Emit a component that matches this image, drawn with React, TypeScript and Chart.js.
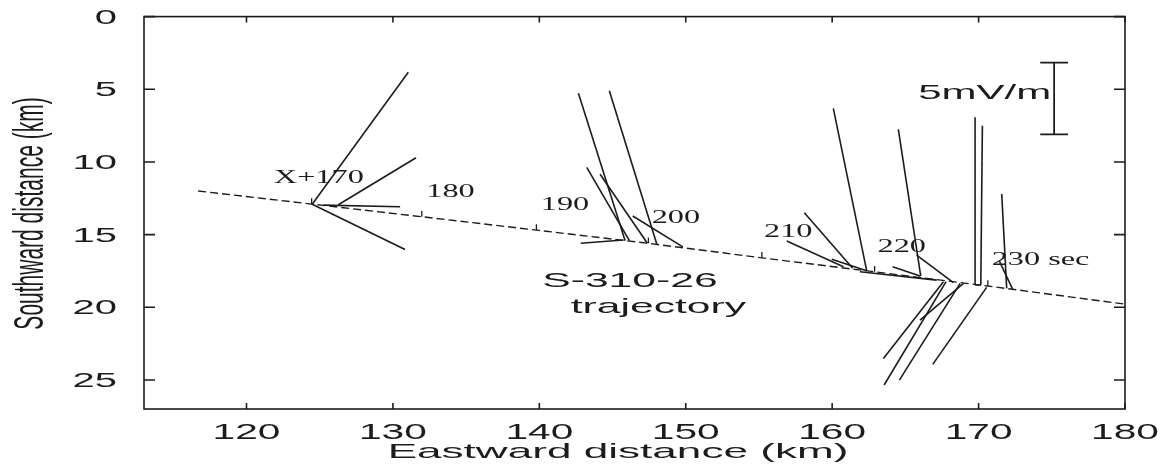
import React, { useEffect, useRef } from 'react';
import { Chart, registerables } from 'chart.js';

Chart.register(...registerables);

// ---- data (km east, km south) ----
// S-310-26 trajectory
const trajX = [116.7, 124.45, 131.97, 139.8, 147.45, 155.2, 162.9, 170.63, 179.9];
const trajY = [12.0, 12.9, 13.77, 14.69, 15.6, 16.6, 17.56, 18.54, 19.77];

// time marks along the trajectory
const timeMarkX = [124.45, 131.97, 139.8, 147.45, 155.2, 162.9, 170.63];
const timeMarkY = [12.9, 13.77, 14.69, 15.6, 16.6, 17.56, 18.54];
const timeLabels = ['X+170', '180', '190', '200', '210', '220', '230 sec'];
const timeLabelX = [124.94, 133.93, 141.75, 149.33, 157.0, 164.75, 174.23];
const timeLabelY = [11.47, 12.39, 13.31, 14.18, 15.19, 16.18, 17.09];

// electric field vectors: base (x0,y0) -> tip (x1,y1)
const vecX0 = [124.5, 126.27, 125.25, 124.45, 145.86, 148.02, 146.15, 147.38, 149.8, 145.74,
  161.4, 160.77, 162.36, 162.36, 161.9, 166.05, 166.0, 168.28, 169.76, 170.15,
  171.92, 172.33, 167.6, 167.78, 168.74, 168.97, 170.55, 169.76];
const vecY0 = [12.9, 12.95, 12.97, 12.9, 15.42, 15.65, 15.42, 15.6, 15.84, 15.37,
  17.32, 17.21, 17.49, 17.49, 17.56, 17.85, 17.85, 18.31, 18.47, 18.47,
  18.7, 18.77, 18.24, 18.24, 18.36, 18.36, 18.63, 18.47];
const vecX1 = [131.05, 131.58, 130.49, 130.83, 142.67, 144.78, 143.24, 144.15, 146.38, 142.83,
  158.1, 156.9, 159.97, 160.08, 167.14, 164.52, 164.13, 165.77, 169.76, 170.26,
  171.58, 171.42, 163.5, 163.55, 164.59, 166.0, 166.87, 170.15];
const vecY1 = [3.83, 9.71, 13.08, 16.02, 5.28, 5.1, 10.37, 10.85, 13.72, 15.6,
  13.5, 15.44, 16.7, 6.31, 18.13, 7.76, 17.21, 16.41, 6.93, 7.51,
  12.21, 16.82, 23.52, 25.35, 25.01, 20.88, 23.93, 18.47];

// 5 mV/m scale bar
const scaleBarX = 175.16;
const scaleBarY = [3.17, 8.1];
const scaleBarCap = 0.95;
const scaleBarLabel = '5mV/m';

// axes
const xTicks = [120, 130, 140, 150, 160, 170, 180];
const yTicks = [0, 5, 10, 15, 20, 25];
const xTitle = 'Eastward distance (km)';
const yTitle = 'Southward distance (km)';

const INK = '#1c1c1c';
const SANS = 'Liberation Sans, Arial, sans-serif';
const SERIF = 'Liberation Serif, Times New Roman, serif';

function stretchText(ctx: CanvasRenderingContext2D, text: string, x: number, y: number,
  font: string, sx: number, align: CanvasTextAlign, rotate = false) {
  ctx.save();
  ctx.font = font;
  ctx.fillStyle = INK;
  ctx.translate(x, y);
  ctx.scale(sx, 1);
  if (rotate) ctx.rotate(-Math.PI / 2);
  ctx.textAlign = align;
  ctx.textBaseline = 'alphabetic';
  ctx.fillText(text, 0, 0);
  ctx.restore();
}

const framePlugin = {
  id: 'frameAndText',
  afterDatasetsDraw(chart: any) {
    const { ctx, chartArea: a, scales } = chart;
    const xs = scales.x, ys = scales.y;
    ctx.save();
    ctx.strokeStyle = INK;
    ctx.lineWidth = 1.6;
    ctx.strokeRect(a.left, a.top, a.right - a.left, a.bottom - a.top);
    ctx.beginPath();
    xTicks.forEach((v) => {
      const px = xs.getPixelForValue(v);
      ctx.moveTo(px, a.bottom); ctx.lineTo(px, a.bottom - 6);
      ctx.moveTo(px, a.top); ctx.lineTo(px, a.top + 6);
    });
    yTicks.forEach((v) => {
      const py = ys.getPixelForValue(v);
      ctx.moveTo(a.left, py); ctx.lineTo(a.left + 11, py);
      ctx.moveTo(a.right, py); ctx.lineTo(a.right - 11, py);
    });
    ctx.stroke();
    ctx.restore();

    // tick labels
    xTicks.forEach((v) => {
      stretchText(ctx, String(v), xs.getPixelForValue(v), a.bottom + 30, `22px ${SANS}`, 1.85, 'center');
    });
    yTicks.forEach((v) => {
      stretchText(ctx, String(v), a.left - 27, ys.getPixelForValue(v) + 7.2, `20px ${SANS}`, 2.0, 'right');
    });
    // axis titles
    stretchText(ctx, xTitle, 610, 450, `21px ${SANS}`, 2.1, 'center');
    stretchText(ctx, yTitle, 34.5, 205.5, `21px ${SANS}`, 2.0, 'center', true);

    // time labels
    timeLabels.forEach((t, i) => {
      stretchText(ctx, t, xs.getPixelForValue(timeLabelX[i]), ys.getPixelForValue(timeLabelY[i]),
        `19px ${SERIF}`, 1.7, 'center');
    });
    // other annotations
    stretchText(ctx, 'S-310-26', xs.getPixelForValue(146.19), ys.getPixelForValue(18.59), `21px ${SANS}`, 2.03, 'center');
    stretchText(ctx, 'trajectory', xs.getPixelForValue(148.13), ys.getPixelForValue(20.42), `21px ${SANS}`, 2.03, 'center');
    stretchText(ctx, scaleBarLabel, xs.getPixelForValue(170.42), ys.getPixelForValue(5.69), `21px ${SANS}`, 2.0, 'center');
  },
};

function seg(x0: number, y0: number, x1: number, y1: number, width = 1.6, dash: number[] = []) {
  return {
    data: [{ x: x0, y: y0 }, { x: x1, y: y1 }],
    borderColor: INK,
    borderWidth: width,
    borderDash: dash,
    pointRadius: 0,
    fill: false,
    tension: 0,
  };
}

export default function App() {
  const ref = useRef<HTMLCanvasElement>(null);
  useEffect(() => {
    if (!ref.current) return;
    const datasets: any[] = [];
    datasets.push({
      data: trajX.map((x, i) => ({ x, y: trajY[i] })),
      borderColor: INK,
      borderWidth: 1.4,
      borderDash: [8, 4],
      pointRadius: 0,
      fill: false,
      tension: 0,
    });
    timeMarkX.forEach((x, i) => datasets.push(seg(x, timeMarkY[i], x, timeMarkY[i] - 0.4, 1.3)));
    vecX0.forEach((x, i) => datasets.push(seg(x, vecY0[i], vecX1[i], vecY1[i])));
    datasets.push(seg(scaleBarX, scaleBarY[0], scaleBarX, scaleBarY[1], 1.8));
    scaleBarY.forEach((y) => datasets.push(seg(scaleBarX - scaleBarCap, y, scaleBarX + scaleBarCap, y, 1.8)));

    const chart = new Chart(ref.current, {
      type: 'line',
      data: { datasets },
      options: {
        animation: false,
        responsive: false,
        maintainAspectRatio: false,
        layout: { padding: { left: 136, right: 36, top: 8.6, bottom: 53 } },
        plugins: { legend: { display: false }, tooltip: { enabled: false } },
        scales: {
          x: { type: 'linear', min: 113, max: 180, display: false },
          y: { type: 'linear', min: 0, max: 27, reverse: true, display: false },
        },
      },
      plugins: [framePlugin],
    } as any);
    return () => chart.destroy();
  }, []);
  return (
    <div style={{ width: 1153, height: 454 }}>
      <canvas ref={ref} width={1153} height={454} style={{ display: 'block' }} />
    </div>
  );
}
